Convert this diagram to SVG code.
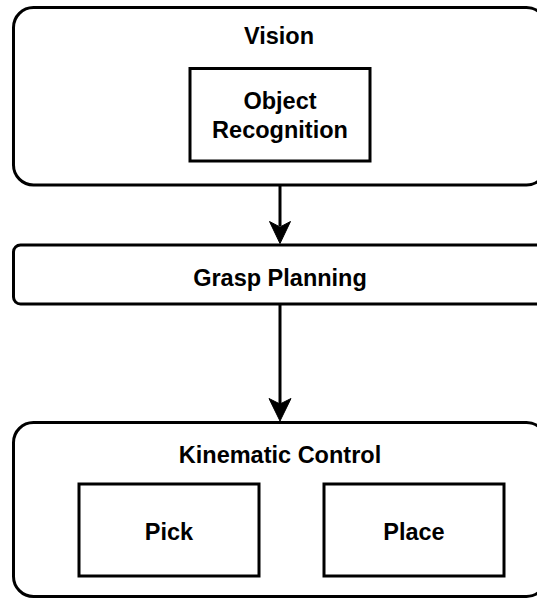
<svg xmlns="http://www.w3.org/2000/svg" width="537" height="599" viewBox="0 0 537 599">
<style>
.box{fill:#fff;stroke:#000;stroke-width:3}
.t{font-family:"Liberation Sans",Arial,sans-serif;font-weight:bold;font-size:23.5px;fill:#000;text-anchor:middle}
.edge{stroke:#000;stroke-width:3;fill:none}
.head{fill:#000;stroke:#000;stroke-width:1}
</style>
<rect width="537" height="599" fill="#fff"/>
<g id="vision">
<rect class="box" x="13.5" y="7.5" width="533" height="177.5" rx="20" ry="20"/>
<text class="t" x="279" y="44">Vision</text>
</g>
<g id="object-recognition">
<rect class="box" x="190" y="68.5" width="180" height="92.5"/>
<text class="t" x="280" y="109">Object</text>
<text class="t" x="280" y="138">Recognition</text>
</g>
<g id="grasp-planning">
<rect class="box" x="13.5" y="245" width="533" height="59" rx="7" ry="7"/>
<text class="t" x="280" y="286">Grasp Planning</text>
</g>
<g id="kinematic-control">
<rect class="box" x="13.5" y="422.5" width="533" height="174" rx="20" ry="20"/>
<text class="t" x="280" y="463">Kinematic Control</text>
</g>
<g id="pick">
<rect class="box" x="79" y="484" width="180" height="92"/>
<text class="t" x="169" y="539.5">Pick</text>
</g>
<g id="place">
<rect class="box" x="324" y="484" width="180" height="92"/>
<text class="t" x="414" y="539.5">Place</text>
</g>
<g id="connectors">
<line class="edge" x1="280" y1="185" x2="280" y2="226"/>
<path class="head" d="M280,243.5 L269.5,221.5 L280,227 L290.5,221.5 Z"/>
<line class="edge" x1="280" y1="304" x2="280" y2="404"/>
<path class="head" d="M280,421 L269,398.5 L280,404 L291,398.5 Z"/>
</g>
</svg>
